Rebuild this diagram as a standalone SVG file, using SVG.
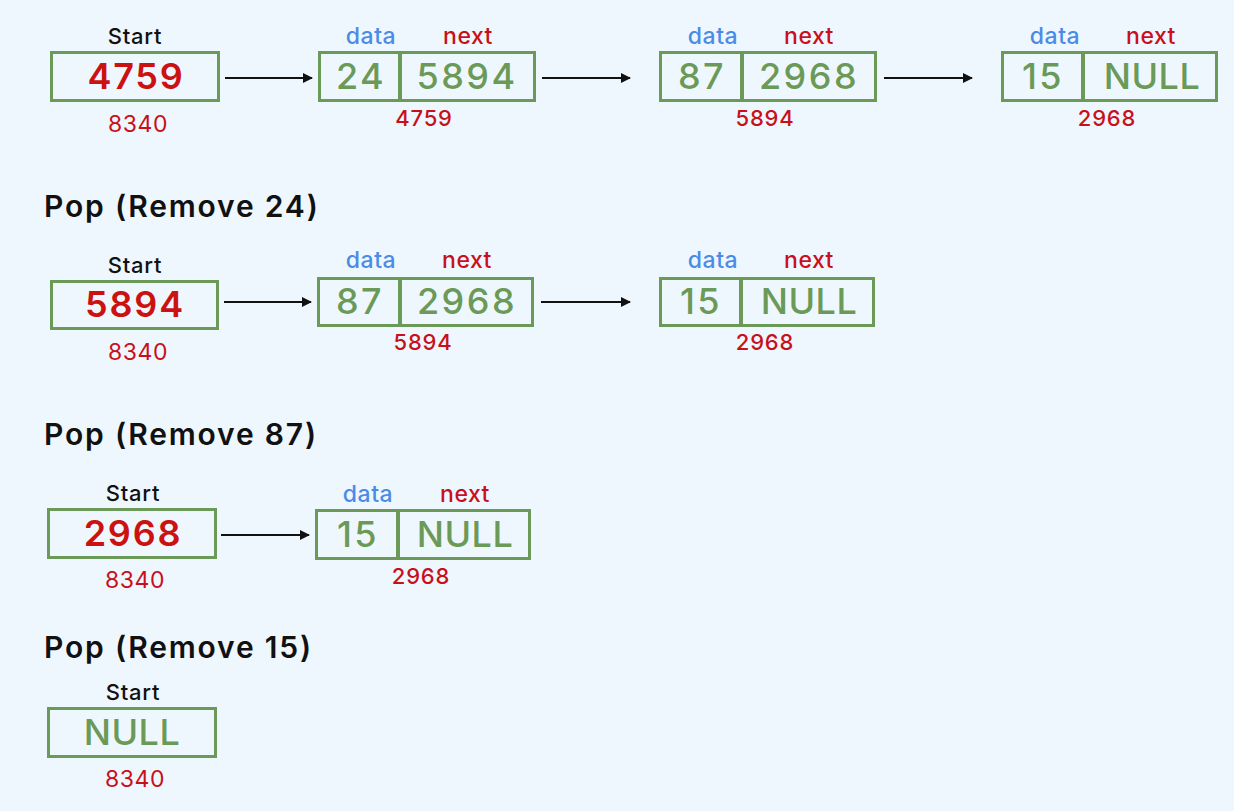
<svg xmlns="http://www.w3.org/2000/svg" width="1234" height="811" viewBox="0 0 1234 811">
<defs>
<style>
text{font-family:Inter,"Noto Sans","Liberation Sans",sans-serif;text-anchor:middle}
.box{fill:none;stroke:#6b9a58;stroke-width:3}
.div{stroke:#6b9a58;stroke-width:4}
.lbl{font-size:22px;font-weight:500;fill:#111;letter-spacing:0.8px}
.val{font-size:36px;font-weight:600;fill:#cc1111;letter-spacing:1.8px}
.num{font-size:36px;font-weight:500;fill:#6b9a58;letter-spacing:2.5px}
.nul{font-size:36px;font-weight:500;fill:#6b9a58;letter-spacing:0.5px}
.dat{font-size:23px;font-weight:500;fill:#4a8be8;letter-spacing:0.5px}
.nxt{font-size:23px;font-weight:500;fill:#c8101a;letter-spacing:0.5px}
.adr{font-size:22px;font-weight:500;fill:#c8101a;letter-spacing:0.8px}
.sadr{font-size:23px;font-weight:400;fill:#c8101a;letter-spacing:0.6px}
.ttl{font-size:30px;font-weight:600;fill:#111;text-anchor:start;letter-spacing:1.8px}
.arr{stroke:#111;stroke-width:2;fill:none;marker-end:url(#ah)}
</style>
<marker id="ah" viewBox="0 0 10 10" refX="9" refY="5" markerWidth="5" markerHeight="5" orient="auto" markerUnits="strokeWidth">
<path d="M0,0 L10,5 L0,10 z" fill="#111"/>
</marker>
</defs>
<rect width="1234" height="811" fill="#eff7fe"/>

<!-- Row 1 -->
<g id="r1-start">
<text class="lbl" x="135" y="44">Start</text>
<rect class="box" x="51.5" y="52.5" width="167" height="48"/>
<text class="val" x="136" y="89">4759</text>
<text class="sadr" x="138" y="132">8340</text>
</g>
<g id="r1-n1">
<text class="dat" x="371" y="44">data</text>
<text class="nxt" x="468" y="44">next</text>
<rect class="box" x="319.5" y="52.5" width="215" height="48"/>
<line class="div" x1="400" y1="53" x2="400" y2="100"/>
<text class="num" x="361" y="89">24</text>
<text class="num" x="467" y="89">5894</text>
<text class="adr" x="424" y="126">4759</text>
</g>
<g id="r1-n2">
<text class="dat" x="713" y="44">data</text>
<text class="nxt" x="809" y="44">next</text>
<rect class="box" x="660.5" y="52.5" width="215" height="48"/>
<line class="div" x1="742" y1="53" x2="742" y2="100"/>
<text class="num" x="702" y="89">87</text>
<text class="num" x="809" y="89">2968</text>
<text class="adr" x="765" y="126">5894</text>
</g>
<g id="r1-n3">
<text class="dat" x="1055" y="44">data</text>
<text class="nxt" x="1151" y="44">next</text>
<rect class="box" x="1002.5" y="52.5" width="214" height="48"/>
<line class="div" x1="1083" y1="53" x2="1083" y2="100"/>
<text class="num" x="1043" y="89">15</text>
<text class="nul" x="1152" y="89">NULL</text>
<text class="adr" x="1107" y="126">2968</text>
</g>

<!-- Row 2 -->
<text class="ttl" x="44" y="217">Pop (Remove 24)</text>
<g id="r2-start">
<text class="lbl" x="135" y="273">Start</text>
<rect class="box" x="51.5" y="281.5" width="166" height="47"/>
<text class="val" x="135" y="317">5894</text>
<text class="sadr" x="138" y="360">8340</text>
</g>
<g id="r2-n1">
<text class="dat" x="371" y="268">data</text>
<text class="nxt" x="467" y="268">next</text>
<rect class="box" x="318.5" y="278.5" width="214" height="47"/>
<line class="div" x1="400" y1="279" x2="400" y2="325"/>
<text class="num" x="360" y="314">87</text>
<text class="num" x="467" y="314">2968</text>
<text class="adr" x="423" y="350">5894</text>
</g>
<g id="r2-n2">
<text class="dat" x="713" y="268">data</text>
<text class="nxt" x="809" y="268">next</text>
<rect class="box" x="660.5" y="278.5" width="213" height="47"/>
<line class="div" x1="741" y1="279" x2="741" y2="325"/>
<text class="num" x="701" y="314">15</text>
<text class="nul" x="809" y="314">NULL</text>
<text class="adr" x="765" y="350">2968</text>
</g>

<!-- Row 3 -->
<text class="ttl" x="44" y="445">Pop (Remove 87)</text>
<g id="r3-start">
<text class="lbl" x="133" y="501">Start</text>
<rect class="box" x="48.5" y="509.5" width="167" height="48"/>
<text class="val" x="133" y="546">2968</text>
<text class="sadr" x="135" y="588">8340</text>
</g>
<g id="r3-n1">
<text class="dat" x="368" y="502">data</text>
<text class="nxt" x="465" y="502">next</text>
<rect class="box" x="316.5" y="510.5" width="213" height="48"/>
<line class="div" x1="398" y1="511" x2="398" y2="558"/>
<text class="num" x="358" y="547">15</text>
<text class="nul" x="465" y="547">NULL</text>
<text class="adr" x="421" y="584">2968</text>
</g>

<!-- Row 4 -->
<text class="ttl" x="44" y="658">Pop (Remove 15)</text>
<g id="r4-start">
<text class="lbl" x="133" y="700">Start</text>
<rect class="box" x="48.5" y="708.5" width="167" height="48"/>
<text class="nul" x="132" y="745">NULL</text>
<text class="sadr" x="135" y="787">8340</text>
</g>

<g id="connectors">
<line class="arr" x1="225" y1="78" x2="312" y2="78"/>
<line class="arr" x1="542" y1="78" x2="630" y2="78"/>
<line class="arr" x1="884" y1="78" x2="972" y2="78"/>
<line class="arr" x1="224" y1="302" x2="311" y2="302"/>
<line class="arr" x1="541" y1="302" x2="630" y2="302"/>
<line class="arr" x1="221" y1="535" x2="309" y2="535"/>
</g>
</svg>
